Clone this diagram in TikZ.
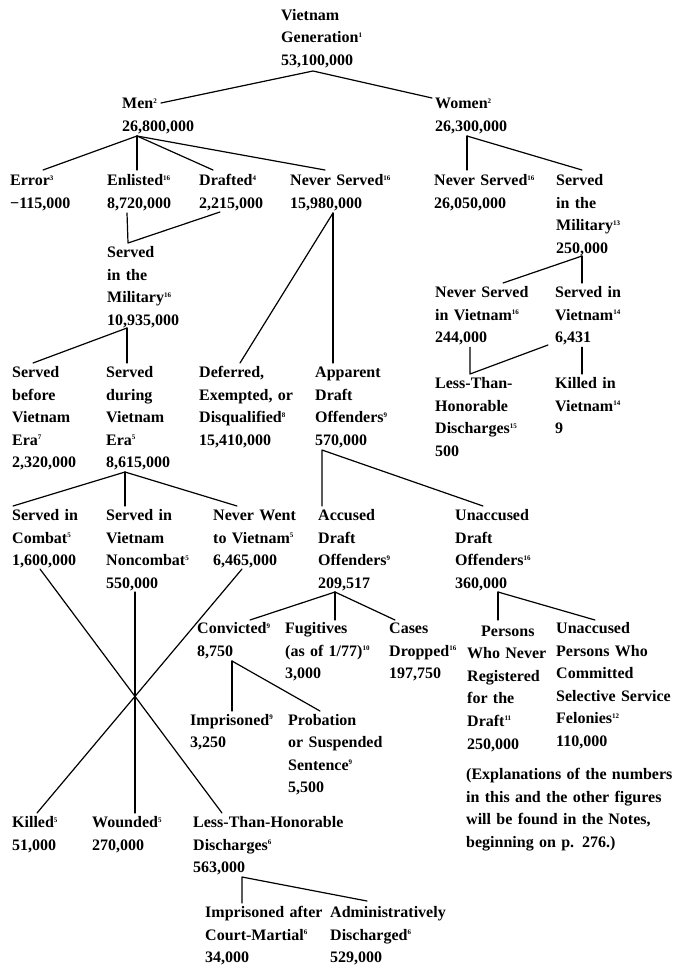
\documentclass[tikz,border=0pt]{standalone}
\usepackage{fontspec}
\setmainfont{Liberation Serif}
\newcommand\fnum[1]{\raisebox{5.5pt}{\fontsize{7}{7}\selectfont #1}}
\begin{document}
\begin{tikzpicture}[x=1pt,y=-1pt,
  lab/.style={anchor=base west, inner sep=0pt, text width=260pt, align=left,
    font=\bfseries\fontsize{16}{22.6}\selectfont},
  conn/.style={line width=1.2pt, line cap=round, line join=round}]
\useasboundingbox (0,0) rectangle (680,970);
% nodes
\node[lab] (gen) at (281,20) {Vietnam\\Generation\fnum{1}\\53,100,000};
\node[lab] (men) at (122,108.5) {Men\fnum{2}\\26,800,000};
\node[lab] (women) at (435,108.5) {Women\fnum{2}\\26,300,000};
\node[lab] (error) at (10,185.5) {Error\fnum{3}\\−115,000};
\node[lab] (enlisted) at (107,185.5) {Enlisted\fnum{16}\\8,720,000};
\node[lab] (drafted) at (199,185.5) {Drafted\fnum{4}\\2,215,000};
\node[lab] (neverm) at (290,185.5) {Never Served\fnum{16}\\15,980,000};
\node[lab] (neverw) at (434,185.5) {Never Served\fnum{16}\\26,050,000};
\node[lab] (servedw) at (556,185.5) {Served\\in the\\Military\fnum{13}\\250,000};
\node[lab] (sm) at (107,257.5) {Served\\in the\\Military\fnum{16}\\10,935,000};
\node[lab] (nsv) at (435,297.5) {Never Served\\in Vietnam\fnum{16}\\244,000};
\node[lab] (siv) at (555,297.5) {Served in\\Vietnam\fnum{14}\\6,431};
\node[lab] (before) at (12,377.5) {Served\\before\\Vietnam\\Era\fnum{7}\\2,320,000};
\node[lab] (during) at (106,377.5) {Served\\during\\Vietnam\\Era\fnum{5}\\8,615,000};
\node[lab] (deferred) at (199,377.5) {Deferred,\\Exempted, or\\Disqualified\fnum{8}\\15,410,000};
\node[lab] (apparent) at (315,377.5) {Apparent\\Draft\\Offenders\fnum{9}\\570,000};
\node[lab] (lth) at (435,388.5) {Less-Than-\\Honorable\\Discharges\fnum{15}\\500};
\node[lab] (kiv) at (555,388.5) {Killed in\\Vietnam\fnum{14}\\9};
\node[lab] (combat) at (12,520.5) {Served in\\Combat\fnum{5}\\1,600,000};
\node[lab] (noncombat) at (106,520.5) {Served in\\Vietnam\\Noncombat\fnum{5}\\550,000};
\node[lab] (neverwent) at (213,520.5) {Never Went\\to Vietnam\fnum{5}\\6,465,000};
\node[lab] (accused) at (318,520.5) {Accused\\Draft\\Offenders\fnum{9}\\209,517};
\node[lab] (unaccused) at (455,520.5) {Unaccused\\Draft\\Offenders\fnum{16}\\360,000};
\node[lab] (convicted) at (197,633.5) {Convicted\fnum{9}\\8,750};
\node[lab] (fugitives) at (285,633.5) {Fugitives\\(as of 1/77)\fnum{10}\\3,000};
\node[lab] (cases) at (389,633.5) {Cases\\Dropped\fnum{16}\\197,750};
\node[lab] (persons) at (467,636) {\hspace*{14pt}Persons\\Who Never\\Registered\\for the\\Draft\fnum{11}\\250,000};
\node[lab] (unaccp) at (556,633.5) {Unaccused\\Persons Who\\Committed\\Selective Service\\Felonies\fnum{12}\\110,000};
\node[lab] (imprisoned) at (190,725) {Imprisoned\fnum{9}\\3,250};
\node[lab] (probation) at (288,725) {Probation\\or Suspended\\Sentence\fnum{9}\\5,500};
\node[lab] (expl) at (466,779.5) {(Explanations of the numbers\\in this and the other figures\\will be found in the Notes,\\beginning on p. 276.)};
\node[lab] (killed) at (12,827.5) {Killed\fnum{5}\\51,000};
\node[lab] (wounded) at (92,827.5) {Wounded\fnum{5}\\270,000};
\node[lab] (lthd) at (193,827.5) {Less-Than-Honorable\\Discharges\fnum{6}\\563,000};
\node[lab] (impaft) at (205,917.5) {Imprisoned after\\Court-Martial\fnum{6}\\34,000};
\node[lab] (admin) at (330,917.5) {Administratively\\Discharged\fnum{6}\\529,000};
% connectors
\begin{scope}[conn]
\draw ([shift={(39,-5.5)}]men.base west) -- ([shift={(32,51)}]gen.base west) -- ([shift={(-3,-10.5)}]women.base west);
\draw ([shift={(15,27.5)}]men.base west) -- ([shift={(33,-15.5)}]error.base west);
\draw ([shift={(15,27.5)}]men.base west) -- ([shift={(30,-15.5)}]enlisted.base west);
\draw ([shift={(15,27.5)}]men.base west) -- ([shift={(14,-15.5)}]drafted.base west);
\draw ([shift={(15,27.5)}]men.base west) -- ([shift={(35,-15.5)}]neverm.base west);
\draw ([shift={(32,27.5)}]women.base west) -- ([shift={(33,-15.5)}]neverw.base west);
\draw ([shift={(32,27.5)}]women.base west) -- ([shift={(26,-15.5)}]servedw.base west);
\draw ([shift={(20,27.5)}]enlisted.base west) -- ([shift={(21,-14.5)}]sm.base west) -- ([shift={(21,26.5)}]drafted.base west);
\draw ([shift={(43,27.5)}]neverm.base west) -- ([shift={(41,-14.5)}]deferred.base west);
\draw ([shift={(43,27.5)}]neverm.base west) -- ([shift={(18,-14.5)}]apparent.base west);
\draw ([shift={(20,70.5)}]sm.base west) -- ([shift={(21,-14.5)}]before.base west);
\draw ([shift={(20,70.5)}]sm.base west) -- ([shift={(21,-14.5)}]during.base west);
\draw ([shift={(26,70.5)}]servedw.base west) -- ([shift={(68,-14.5)}]nsv.base west);
\draw ([shift={(26,70.5)}]servedw.base west) -- ([shift={(27,-14.5)}]siv.base west);
\draw ([shift={(35,49.7)}]nsv.base west) -- ([shift={(35,-14.5)}]lth.base west) -- ([shift={(-7,47.5)}]siv.base west);
\draw ([shift={(27,49.7)}]siv.base west) -- ([shift={(27,-14.5)}]kiv.base west);
\draw ([shift={(19,94.5)}]during.base west) -- ([shift={(1,-14.5)}]combat.base west);
\draw ([shift={(19,94.5)}]during.base west) -- ([shift={(19,-14.5)}]noncombat.base west);
\draw ([shift={(19,94.5)}]during.base west) -- ([shift={(24,-14.5)}]neverwent.base west);
\draw ([shift={(4,-14.5)}]accused.base west) -- ([shift={(7,72.5)}]apparent.base west) -- ([shift={(28,-14.5)}]unaccused.base west);
\draw ([shift={(17,71.5)}]accused.base west) -- ([shift={(53,-13.5)}]convicted.base west);
\draw ([shift={(17,71.5)}]accused.base west) -- ([shift={(50,-13.5)}]fugitives.base west);
\draw ([shift={(17,71.5)}]accused.base west) -- ([shift={(6,-13.5)}]cases.base west);
\draw ([shift={(43,71.5)}]unaccused.base west) -- ([shift={(31,-16)}]persons.base west);
\draw ([shift={(43,71.5)}]unaccused.base west) -- ([shift={(39,-13.5)}]unaccp.base west);
\draw ([shift={(35,27.5)}]convicted.base west) -- ([shift={(42,-14)}]imprisoned.base west);
\draw ([shift={(35,27.5)}]convicted.base west) -- ([shift={(32,-14)}]probation.base west);
\draw ([shift={(28,48.5)}]combat.base west) -- ([shift={(29,-14.5)}]lthd.base west);
\draw ([shift={(29,48.5)}]neverwent.base west) -- ([shift={(25,-14.5)}]killed.base west);
\draw ([shift={(29,71.5)}]noncombat.base west) -- ([shift={(43,-14.5)}]wounded.base west);
\draw ([shift={(37,-14.5)}]impaft.base west) -- ([shift={(49,49.5)}]lthd.base west) -- ([shift={(37,-16.5)}]admin.base west);
\end{scope}
\end{tikzpicture}
\end{document}
